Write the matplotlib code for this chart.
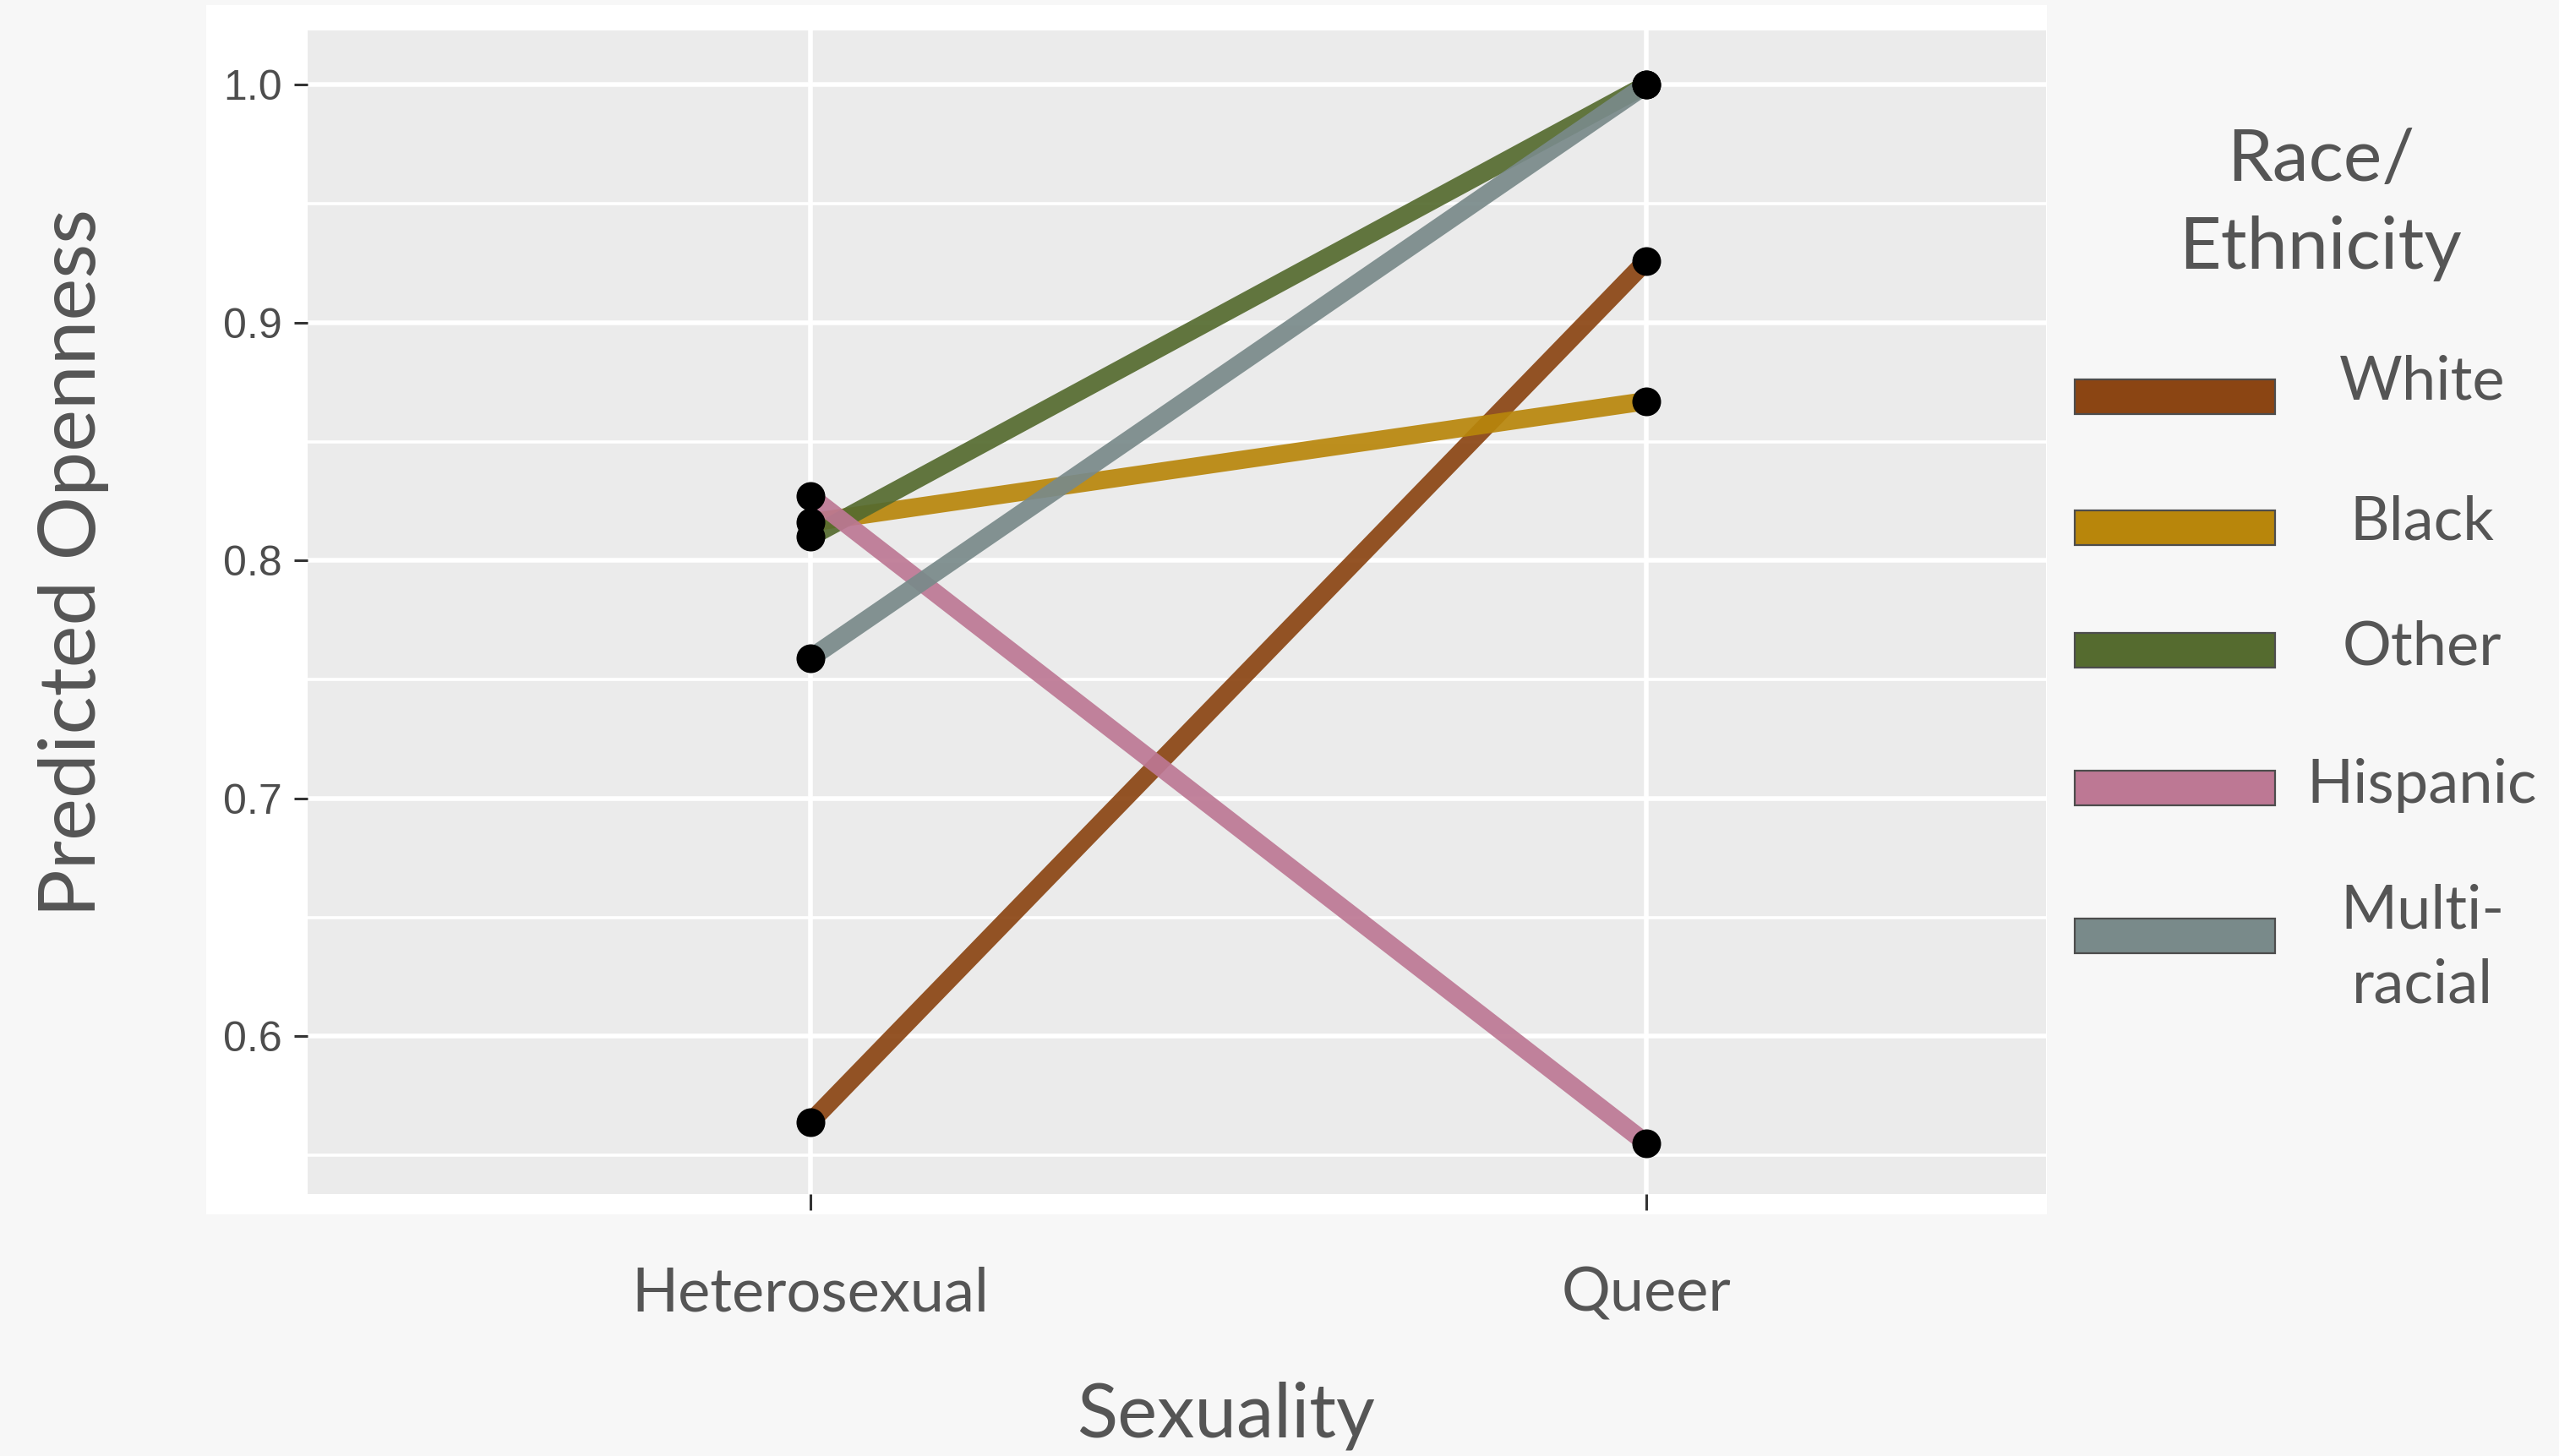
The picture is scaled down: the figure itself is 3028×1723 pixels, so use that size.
import matplotlib.pyplot as plt
from matplotlib.patches import Rectangle
from matplotlib.ticker import MultipleLocator, FormatStrFormatter

# categories and predicted values
sexuality = ["Heterosexual", "Queer"]
groups = ["White", "Black", "Other", "Hispanic", "Multi-\nracial"]
hetero_vals = [0.564, 0.816, 0.810, 0.827, 0.759]
queer_vals = [0.926, 0.867, 1.000, 0.555, 1.000]
colors = ["#8B4513", "#B8860B", "#556B2F", "#BD7894", "#798A8A"]

txt_col = "#555555"
font = "Lato"

fig = plt.figure(figsize=(15.14, 8.615), dpi=200)
fig.patch.set_facecolor("#f7f7f7")

# white plot background (as exported from ggplot)
fig.patches.append(Rectangle((0.0806, 0.166), 0.7192, 0.8305, transform=fig.transFigure,
                             facecolor="white", edgecolor="none", zorder=-1))

ax = fig.add_axes([0.1202, 0.1799, 0.6794, 0.7992])
ax.set_zorder(2)
ax.set_facecolor("#ebebeb")
for s in ax.spines.values():
    s.set_visible(False)

xpos = [1, 2]
for i, name in enumerate(groups):
    ax.plot(xpos, [hetero_vals[i], queer_vals[i]], color=colors[i], lw=7.8,
            alpha=0.92, solid_capstyle="butt", zorder=3)
for i in range(len(groups)):
    ax.scatter(xpos, [hetero_vals[i], queer_vals[i]], s=150, color="black",
               zorder=5, linewidths=0)

ax.set_xlim(0.3984, 2.478)
ax.set_ylim(0.5337, 1.0228)
ax.set_xticks(xpos)
ax.set_xticklabels(sexuality, fontsize=26, color=txt_col, family=font)
ax.yaxis.set_major_locator(MultipleLocator(0.1))
ax.yaxis.set_minor_locator(MultipleLocator(0.05))
ax.yaxis.set_major_formatter(FormatStrFormatter("%.1f"))
ax.tick_params(axis="y", which="major", length=5.8, width=1.1, color="#333333",
               labelsize=18, labelcolor="#4d4d4d", pad=5)
ax.tick_params(axis="y", which="minor", length=0)
ax.tick_params(axis="x", length=6.8, width=1.1, color="#333333", pad=24)
for lab in ax.get_yticklabels():
    lab.set_family("Liberation Sans")

ax.grid(True, which="major", color="white", lw=2.0, zorder=1)
ax.grid(True, which="minor", axis="y", color="white", lw=1.3, zorder=1)
ax.set_axisbelow(True)

fig.text(87 / 3028, 1 - 666 / 1723, "Predicted Openness", rotation=90, ha="center",
         va="center", fontsize=34, color=txt_col, family=font)
fig.text(1451 / 3028, 1 - 1675 / 1723, "Sexuality", ha="center", va="center",
         fontsize=32, color=txt_col, family=font)

# legend drawn by hand to keep the uneven spacing
fig.text(2746 / 3028, 1 - 242 / 1723, "Race/\nEthnicity", ha="center", va="center",
         fontsize=31, color=txt_col, family=font, linespacing=1.42)
key_y = [470, 625, 770, 933, 1108]
lab_y = [452, 618, 766, 929, 1122]
for i, name in enumerate(groups):
    fig.patches.append(Rectangle((2455 / 3028, 1 - (key_y[i] + 20) / 1723), 237 / 3028,
                                 41 / 1723, transform=fig.transFigure,
                                 facecolor=colors[i], edgecolor="#4d4d4d", lw=0.8))
    fig.text(2866 / 3028, 1 - lab_y[i] / 1723, name, ha="center", va="center",
             fontsize=26, color=txt_col, family=font, linespacing=1.45)

plt.savefig("out.png", dpi=200, facecolor=fig.get_facecolor())
